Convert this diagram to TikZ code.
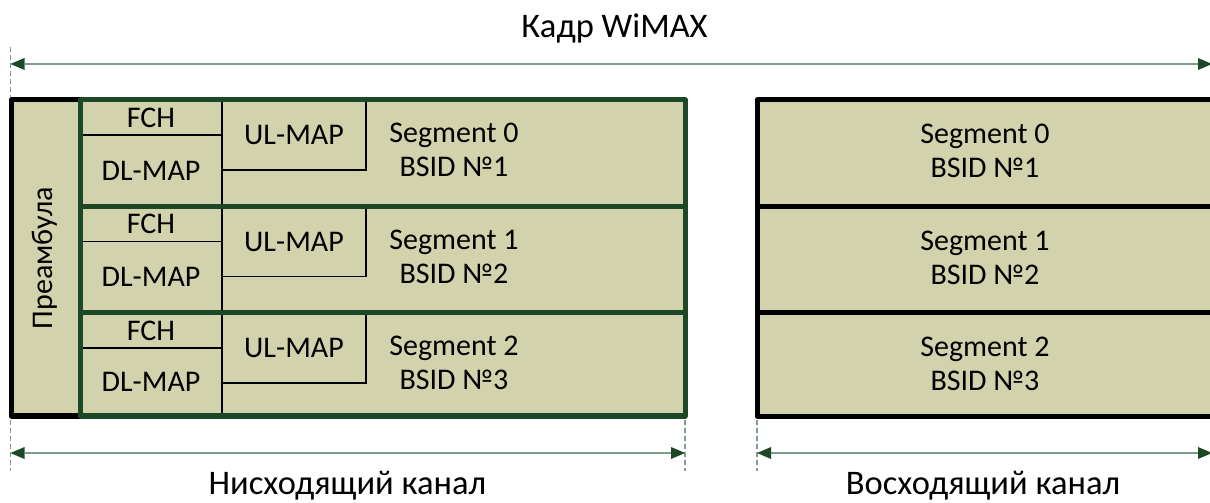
\documentclass[tikz,border=0pt]{standalone}
\usepackage{fontspec}
\setmainfont{Carlito}
\usetikzlibrary{arrows.meta}

\definecolor{cellfill}{RGB}{210,211,172}
\definecolor{dlgreen}{RGB}{28,72,40}
\definecolor{guide}{RGB}{128,156,140}
\definecolor{tipgreen}{RGB}{28,72,40}

\tikzset{
  boxfont/.style={font=\fontsize{30bp}{34bp}\selectfont},
  bigfont/.style={font=\fontsize{34.5bp}{40bp}\selectfont},
  cell/.style={draw=black, line width=1.3bp, inner sep=0pt, outer sep=0pt,
               anchor=north west, boxfont},
  segtext/.style={boxfont, align=center, inner sep=0pt},
  ulrow/.style={draw=black, fill=cellfill, line width=5bp, line join=round,
                inner sep=0pt, outer sep=0pt, anchor=north west,
                minimum width=470bp},
  thick green/.style={draw=dlgreen, line width=5bp, line join=round},
  thick black/.style={draw=black, line width=5bp, line join=round},
  tip/.tip={Triangle[length=14bp,width=12bp,color=tipgreen,fill=tipgreen,line width=0pt]},
  span/.style={draw=guide, line width=1.8bp, tip-tip},
  guideline/.style={draw=guide, line width=1.5bp, dash pattern=on 5bp off 3bp},
}

\begin{document}
\begin{tikzpicture}[x=1bp,y=-1bp]
  \useasboundingbox (0,0) rectangle (1210,503);

  % title and whole-frame span
  \node[bigfont, anchor=base] (frame) at (614.5,38) {Кадр WiMAX};
  \coordinate (fL) at (10.5,64);
  \coordinate (fR) at (1212,64);
  \coordinate (gTopA) at (10.5,47);
  \coordinate (gTopB) at (10.5,97);
  \draw[guideline] (gTopA) -- (gTopB);
  \draw[span] (fL) -- (fR);

  % downlink subframe background and preamble
  \fill[cellfill] (11,100) rectangle (685,416);
  \node[boxfont, rotate=90] (pre) at (45,258) {Преамбула};

  % downlink segments: FCH, DL-MAP, UL-MAP and data
  \foreach \r/\t/\h/\n in {0/100/106.5/1, 1/206.5/106.5/2, 2/313/103/3}{
    \node[cell, minimum width=142bp, minimum height=35bp] (fch\r) at (80,\t) {FCH};
    \node[cell, minimum width=142bp, minimum height=\h bp-35bp] (dlmap\r) at (80,\t+35) {DL-MAP};
    \node[cell, minimum width=144bp, minimum height=70bp] (ulmap\r) at (222,\t) {UL-MAP};
    \node[segtext] (dlseg\r) at (454,\t+50) {Segment \r\\BSID №\n};
  }

  % thick borders of the downlink subframe
  \draw[thick black] (80,100) -- (11,100) -- (11,416) -- (80,416);
  \draw[thick green] (80,100) rectangle (685,416);
  \draw[thick green] (80,206.5) -- (685,206.5);
  \draw[thick green] (80,313) -- (685,313);

  % uplink subframe (runs past the right edge)
  \foreach \r/\t/\h/\n in {0/100/106.5/1, 1/206.5/106.5/2, 2/313/103/3}{
    \node[ulrow, minimum height=\h bp] (ul\r) at (757,\t) {};
    \node[segtext] (ulseg\r) at (985,\t+51) {Segment \r\\BSID №\n};
  }

  % bottom spans
  \coordinate (dlA) at (10.5,453);
  \coordinate (dlB) at (685,453);
  \coordinate (ulA) at (757,453);
  \coordinate (ulB) at (1212,453);
  \foreach \x/\nm in {10.5/g0, 685/g1, 757/g2}{
    \coordinate (\nm a) at (\x,420);
    \coordinate (\nm b) at (\x,471);
    \draw[guideline] (\nm a) -- (\nm b);
  }
  \draw[span] (dlA) -- (dlB);
  \draw[span] (ulA) -- (ulB);

  \node[bigfont, anchor=base] (dlname) at (347.5,494.5) {Нисходящий канал};
  \node[bigfont, anchor=base] (ulname) at (983,494.5) {Восходящий канал};
\end{tikzpicture}
\end{document}
